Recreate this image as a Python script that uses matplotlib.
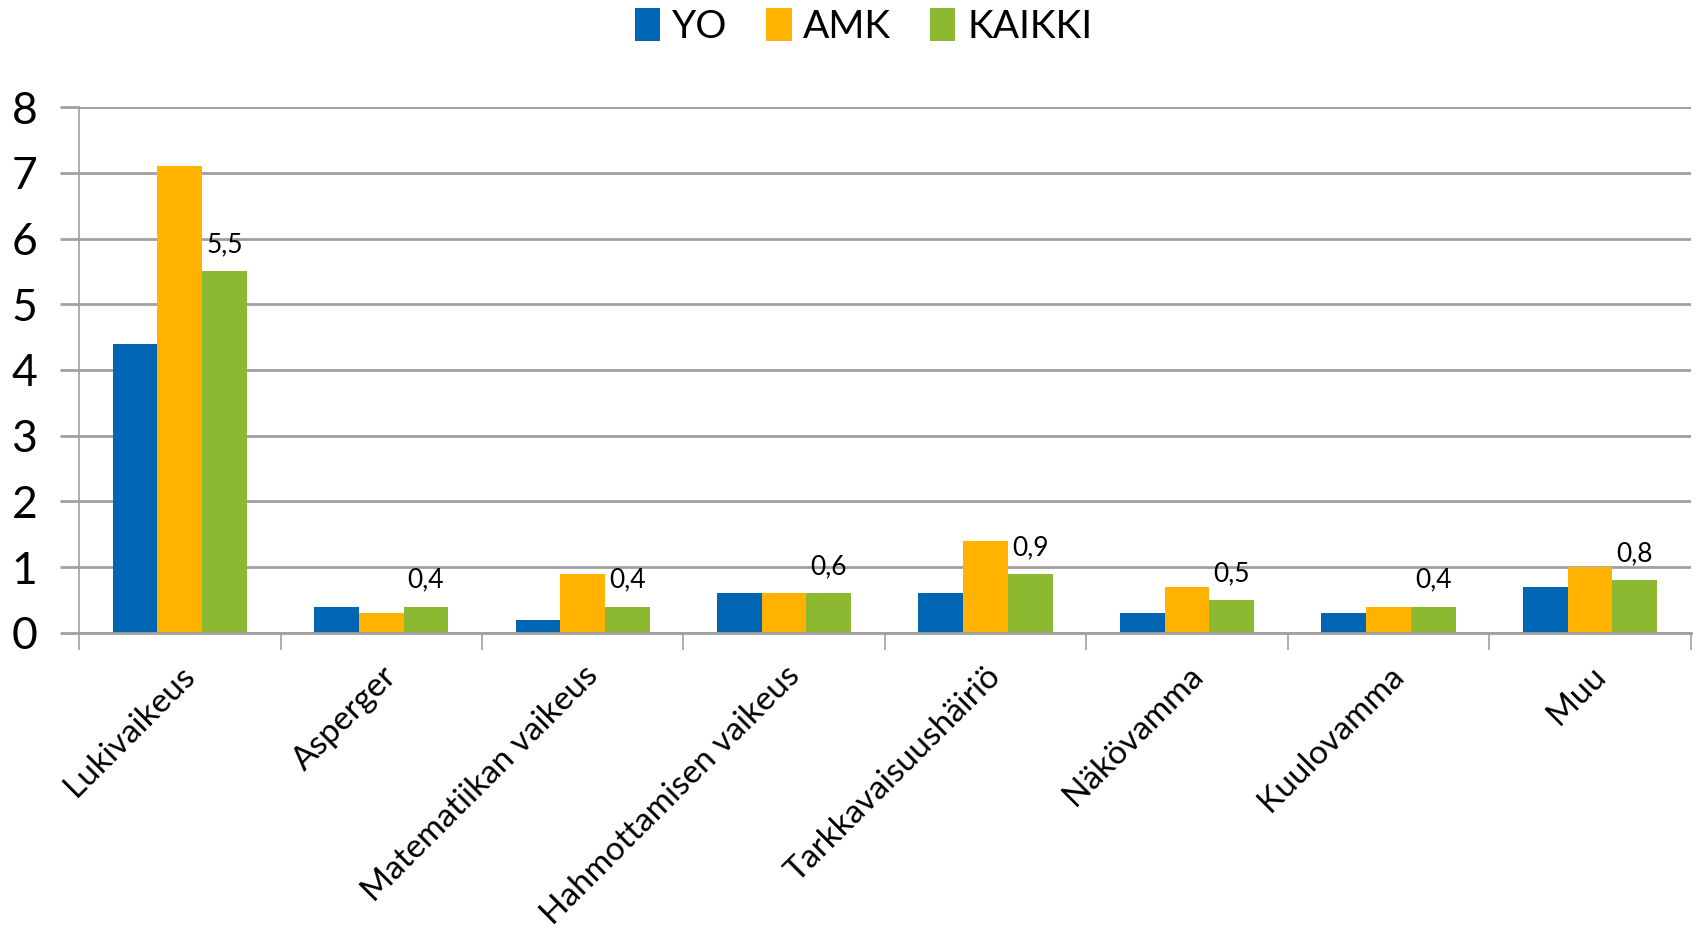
import numpy as np
import matplotlib.pyplot as plt
from matplotlib.ticker import FixedLocator

plt.rcParams['font.family'] = ['Lato', 'DejaVu Sans']

categories = ['Lukivaikeus', 'Asperger', 'Matematiikan vaikeus', 'Hahmottamisen vaikeus',
              'Tarkkavaisuushäiriö', 'Näkövamma', 'Kuulovamma', 'Muu']
yo = [4.4, 0.4, 0.2, 0.6, 0.6, 0.3, 0.3, 0.7]
amk = [7.1, 0.3, 0.9, 0.6, 1.4, 0.7, 0.4, 1.0]
kaikki = [5.5, 0.4, 0.4, 0.6, 0.9, 0.5, 0.4, 0.8]
kaikki_labels = ['5,5', '0,4', '0,4', '0,6', '0,9', '0,5', '0,4', '0,8']

colors = ['#0066B3', '#FFB300', '#8CB832']

fig = plt.figure(figsize=(17, 9.39), dpi=100)
ax = fig.add_axes([0.0465, 0.326, 0.948, 0.56])

x = np.arange(len(categories))
w = 0.222
ax.bar(x - w, yo, w, color=colors[0], label='YO')
ax.bar(x, amk, w, color=colors[1], label='AMK')
bars = ax.bar(x + w, kaikki, w, color=colors[2], label='KAIKKI')

for b, lab in zip(bars, kaikki_labels):
    ax.annotate(lab, (b.get_x() + b.get_width() / 2, b.get_height()),
                xytext=(0, 10), textcoords='offset points',
                ha='center', va='bottom', fontsize=19)

ax.set_xlim(-0.5, len(categories) - 0.5)
ax.set_ylim(0, 8)
ax.set_yticks(range(0, 9))
ax.yaxis.grid(True, color='#A0A0A0', linewidth=2)
ax.set_axisbelow(True)
ax.tick_params(axis='y', labelsize=32, length=14, width=2, color='#A0A0A0', pad=16)

ax.xaxis.set_major_locator(FixedLocator(np.arange(-0.5, len(categories), 1.0)))
ax.xaxis.set_minor_locator(FixedLocator(x))
ax.set_xticklabels([])
ax.set_xticklabels(categories, minor=True, rotation=45, ha='right', va='top',
                   rotation_mode='anchor', fontsize=24)
ax.tick_params(axis='x', which='minor', length=0, pad=20)
ax.tick_params(axis='x', which='major', length=12, width=1.2, color='#A0A0A0')

for s in ['top', 'right']:
    ax.spines[s].set_visible(False)
ax.spines['left'].set_color('#A0A0A0')
ax.spines['left'].set_linewidth(1.2)
ax.spines['bottom'].set_color('#A0A0A0')
ax.spines['bottom'].set_linewidth(2)

fig.legend(loc='center', bbox_to_anchor=(0.508, 0.972), ncol=3, frameon=False,
           fontsize=28, handlelength=0.65, handleheight=0.95, handletextpad=0.3,
           columnspacing=1.0)

fig.savefig('out.png', dpi=100)
